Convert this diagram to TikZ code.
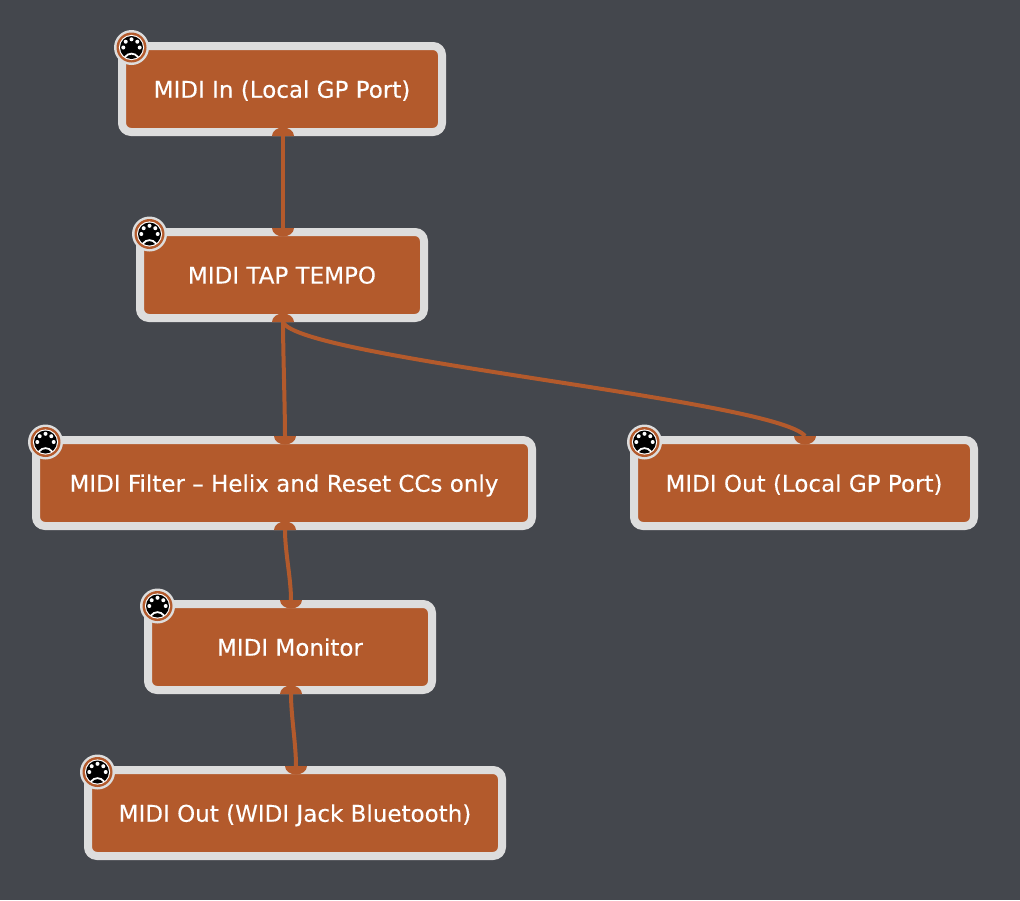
\documentclass[tikz,border=0pt]{standalone}
\usepackage{fontspec}
\setmainfont[FakeBold=0.2]{DejaVu Sans}
\usetikzlibrary{calc}
\definecolor{bgc}{RGB}{68,71,77}
\definecolor{boxc}{RGB}{179,90,44}
\definecolor{edgec}{RGB}{221,221,221}
\tikzset{
  block/.style={draw=edgec,fill=boxc,line width=8pt,rounded corners=9pt,outer sep=0pt,inner sep=0pt,
    minimum height=86pt,text=white,font=\fontsize{23}{27}\selectfont,text depth=0pt},
  wire/.style={draw=boxc,line width=4pt},
  pinpad/.style={fill=boxc,draw=none},
  midi/.pic={
    \fill[edgec] (0,0) circle (17.5);
    \fill[boxc] (0,0) circle (15);
    \fill[white] (0,0) circle (12.6);
    \fill[black] (0,0) circle (11.5);
    \foreach \a in {0,-45,-90,-135,-180} \fill[white] (\a:8.2) circle (2);
    \draw[white,line width=1.8pt] (-6.5,9.6) .. controls (-3.5,5) and (3.5,5) .. (6.5,9.6);
  }
}
\newcommand{\pindown}[1]{\fill[pinpad] ($(#1)+(-11,0)$) arc[start angle=180,end angle=360,x radius=11,y radius=8.5] -- cycle;}
\newcommand{\pinup}[1]{\fill[pinpad] ($(#1)+(-11,0)$) arc[start angle=180,end angle=0,x radius=11,y radius=8.5] -- cycle;}
\begin{document}
\begin{tikzpicture}[x=1pt,y=-1pt]
\useasboundingbox[fill=bgc] (0,0) rectangle (1020,900);
\node[block,minimum width=320pt] (a) at (282,89) {MIDI In (Local GP Port)};
\node[block,minimum width=284pt] (b) at (282,275) {MIDI TAP TEMPO};
\node[block,minimum width=496pt] (c) at (284,483) {MIDI Filter – Helix and Reset CCs only};
\node[block,minimum width=340pt] (d) at (804,483) {MIDI Out (Local GP Port)};
\node[block,minimum width=284pt] (e) at (290,647) {MIDI Monitor};
\node[block,minimum width=414pt] (f) at (295,813) {MIDI Out (WIDI Jack Bluetooth)};
\coordinate (aS) at ($(a.south)+(1,4)$);
\coordinate (bN) at ($(b.north)+(1,-4)$);
\coordinate (bS) at ($(b.south)+(1,4)$);
\coordinate (cN) at ($(c.north)+(1,-4)$);
\coordinate (cS) at ($(c.south)+(1,4)$);
\coordinate (dN) at ($(d.north)+(1,-4)$);
\coordinate (eN) at ($(e.north)+(1,-4)$);
\coordinate (eS) at ($(e.south)+(1,4)$);
\coordinate (fN) at ($(f.north)+(1,-4)$);
\draw[wire] (aS) -- (bN);
\draw[wire] (bS) .. controls ($(bS)+(0,25)$) and ($(cN)+(0,-25)$) .. (cN);
\draw[wire] (bS) .. controls ($(bS)+(14,36)$) and ($(dN)+(-29,-36)$) .. (dN);
\draw[wire] (cS) .. controls ($(cS)+(0,22)$) and ($(eN)+(0,-22)$) .. (eN);
\draw[wire] (eS) .. controls ($(eS)+(0,22)$) and ($(fN)+(0,-22)$) .. (fN);
\pindown{aS}\pindown{bS}\pindown{cS}\pindown{eS}
\pinup{bN}\pinup{cN}\pinup{dN}\pinup{eN}\pinup{fN}
\pic at (131.5,47.5) {midi};
\pic at (149.5,234) {midi};
\pic at (45.5,442) {midi};
\pic at (644.5,442) {midi};
\pic at (157.5,606) {midi};
\pic at (97.5,772) {midi};
\end{tikzpicture}
\end{document}
